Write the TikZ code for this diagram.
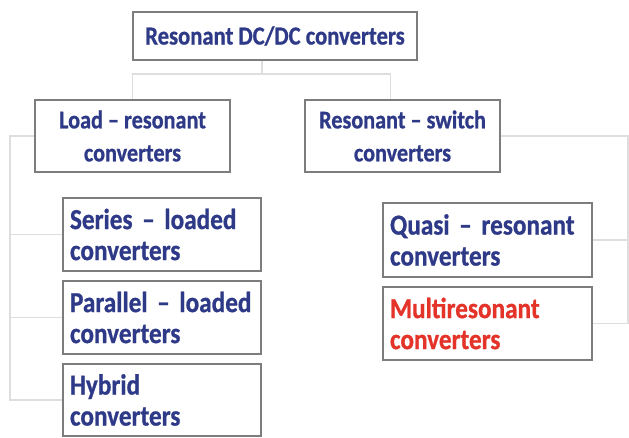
\documentclass[tikz,border=0pt]{standalone}
\usepackage{fontspec}
\setmainfont{Carlito}[FakeStretch=0.87, BoldFeatures={FakeBold=0.8}]
\usetikzlibrary{positioning, calc}

\definecolor{txtblue}{RGB}{46,58,135}
\definecolor{txtred}{RGB}{228,52,42}
\definecolor{boxgray}{RGB}{125,125,125}
\definecolor{linkgray}{RGB}{222,222,222}

\begin{document}
\begin{tikzpicture}[
    x=1pt, y=-1pt,
    every node/.style={font=\fontsize{25.5}{33}\selectfont\bfseries, text=txtblue},
    box/.style={rectangle, draw=boxgray, line width=1.4pt, fill=white, align=center, minimum width=#1, minimum height=72pt, inner sep=0pt},
    leaf/.style={rectangle, draw=boxgray, line width=1.4pt, fill=white, align=left, text width=#1, minimum height=73pt, inner xsep=7pt, inner ysep=0pt, font=\fontsize{29}{31}\selectfont\bfseries},
    link/.style={draw=linkgray, line width=1.5pt}
]
\useasboundingbox (0,0) rectangle (629,438);

% Level 1: root
\node[box=284pt, minimum height=48pt, font=\fontsize{26}{30}\selectfont\bfseries] (top) at (275,36) {Resonant DC/DC converters};

% Level 2: two families
\node[box=195pt] (load) at (132.5,136) {Load -- resonant\\converters};
\node[box=195pt] (switch) at (402.5,136) {Resonant -- switch\\converters};

% Level 3: load-resonant types
\node[leaf=184pt] (series) at (162,234.5) {\mbox{Series -- loaded}\\converters};
\node[leaf=184pt, below=8.6pt of series] (parallel) {\mbox{Parallel -- loaded}\\converters};
\node[leaf=184pt, below=8.6pt of parallel, minimum height=72pt] (hybrid) {Hybrid\\converters};

% Level 3: resonant-switch types
\node[leaf=195pt, minimum height=74pt] (quasi) at (487.5,240) {\mbox{Quasi -- resonant}\\converters};
\node[leaf=195pt, below=8.6pt of quasi, text=txtred] (multi) {Multiresonant\\converters};

% Tree links
\coordinate (bus) at (262,74);
\coordinate (lspine) at (10,136);
\coordinate (rspine) at (628,136);

\draw[link] (top.south -| bus) -- (bus);
\draw[link] (bus) -| (load.north);
\draw[link] (bus) -| ([xshift=-12pt]switch.north);

\draw[link] (load.west) -- (lspine) |- (hybrid.west);
\draw[link] (lspine |- series.west) -- (series.west);
\draw[link] (lspine |- parallel.west) -- (parallel.west);

\draw[link] (switch.east) -- (rspine) |- (multi.east);
\draw[link] (rspine |- quasi.east) -- (quasi.east);

\end{tikzpicture}
\end{document}
